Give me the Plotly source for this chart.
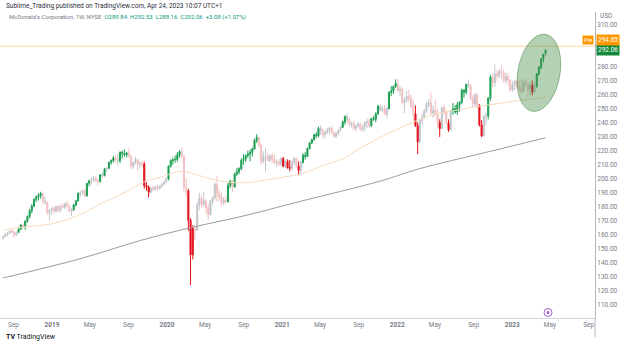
import numpy as np
import pandas as pd
import plotly.graph_objects as go

# Weekly bars for MCD (NYSE), one tuple per week: open, high, low, close, trend
# trend: "g" strong up, "r" strong down, "u" quiet up, "d" quiet down
bars_2018 = [
    (157.8, 159.6, 156.9, 158.9, "u"), (158.9, 161.2, 158.2, 160.5, "u"),
    (160.5, 162.3, 158.9, 161.4, "u"), (161.4, 163.5, 160.6, 162.9, "u"),
    (162.9, 164.0, 161.3, 162.2, "d"), (162.2, 163.4, 157.8, 160.1, "d"),
    (160.1, 162.6, 159.3, 161.9, "u"), (161.9, 164.8, 161.2, 164.2, "g"),
    (164.2, 167.6, 163.5, 167.2, "g"), (167.2, 168.4, 164.9, 166.0, "d"),
    (166.0, 170.6, 163.7, 169.8, "g"), (169.8, 173.9, 168.7, 173.2, "g"),
    (173.2, 178.6, 171.9, 177.4, "g"), (177.4, 182.0, 175.5, 180.6, "g"),
    (180.6, 186.2, 180.0, 185.5, "g"), (185.5, 188.3, 183.6, 187.1, "g"),
    (187.1, 189.8, 184.7, 188.2, "g"), (188.2, 190.9, 185.9, 189.7, "g"),
    (189.7, 190.2, 182.1, 184.3, "d"), (184.3, 187.5, 181.6, 183.0, "u"),
    (183.0, 184.4, 174.6, 175.8, "d"), (175.8, 178.6, 170.3, 177.6, "u"),
    (177.6, 180.0, 174.2, 178.9, "u"),
]

bars_2019 = [
    (178.9, 180.8, 175.5, 177.1, "d"), (177.1, 181.0, 175.8, 180.3, "u"),
    (180.3, 181.2, 176.4, 177.3, "d"), (177.3, 181.5, 176.2, 180.8, "u"),
    (180.8, 182.6, 178.9, 179.6, "d"), (179.6, 183.1, 178.5, 182.5, "u"),
    (182.5, 184.3, 180.0, 180.6, "d"), (180.6, 182.0, 176.3, 176.9, "d"),
    (176.9, 179.4, 173.4, 178.2, "u"), (178.2, 182.1, 177.1, 181.4, "g"),
    (181.4, 185.0, 180.4, 184.3, "g"), (184.3, 190.3, 183.8, 189.9, "g"),
    (189.9, 191.2, 187.3, 190.6, "u"), (190.6, 192.5, 188.6, 191.3, "u"),
    (191.3, 193.0, 186.9, 188.0, "d"), (188.0, 197.2, 187.4, 196.9, "g"),
    (196.9, 199.4, 194.7, 198.7, "g"), (198.7, 201.2, 196.1, 199.4, "u"),
    (199.4, 202.6, 197.8, 200.6, "u"), (200.6, 201.9, 197.5, 198.4, "d"),
    (198.4, 200.0, 195.4, 198.3, "d"), (198.3, 203.5, 197.4, 203.0, "g"),
    (203.0, 204.9, 200.8, 202.4, "u"), (202.4, 207.9, 201.9, 207.2, "g"),
    (207.2, 208.4, 204.8, 207.7, "u"), (207.7, 212.5, 207.1, 211.9, "g"),
    (211.9, 214.0, 210.2, 213.2, "g"), (213.2, 216.5, 211.8, 215.0, "g"),
    (215.0, 216.6, 211.3, 213.4, "d"), (213.4, 218.0, 209.8, 213.1, "u"),
    (213.1, 219.6, 211.4, 219.1, "g"), (219.1, 220.3, 214.6, 218.1, "g"),
    (218.1, 221.2, 216.0, 217.3, "g"), (217.3, 219.5, 215.4, 218.6, "g"),
    (218.6, 221.9, 215.2, 216.2, "d"), (216.2, 217.0, 206.9, 209.1, "d"),
    (209.1, 212.6, 207.5, 211.8, "u"), (211.8, 215.6, 210.2, 213.9, "u"),
    (213.9, 214.7, 205.9, 210.3, "d"), (210.3, 212.8, 207.6, 211.2, "u"),
    (211.2, 213.3, 208.6, 210.7, "d"), (210.7, 212.4, 193.1, 195.3, "r"),
    (195.3, 197.6, 191.8, 194.2, "r"), (194.2, 195.5, 186.9, 190.6, "r"),
    (190.6, 194.0, 189.8, 193.6, "u"), (193.6, 195.3, 191.5, 192.4, "d"),
    (192.4, 195.1, 191.9, 194.5, "u"), (194.5, 196.1, 191.6, 193.0, "d"),
    (193.0, 195.7, 192.6, 195.1, "u"), (195.1, 197.0, 193.8, 196.4, "u"),
    (196.4, 198.5, 195.5, 197.9, "u"), (197.9, 201.2, 196.8, 200.1, "u"),
]

bars_2020 = [
    (200.1, 209.6, 199.0, 209.3, "g"), (209.3, 214.0, 208.2, 213.2, "g"),
    (213.2, 215.4, 210.3, 213.6, "g"), (213.6, 216.8, 211.6, 213.9, "g"),
    (213.9, 219.3, 212.4, 217.2, "g"), (217.2, 220.5, 215.3, 219.6, "g"),
    (219.6, 221.9, 214.9, 216.0, "d"), (216.0, 217.2, 190.6, 194.2, "d"),
    (194.2, 200.5, 187.2, 191.5, "d"), (191.5, 193.0, 163.0, 170.5, "r"),
    (170.5, 172.0, 124.2, 145.8, "r"), (145.8, 166.9, 142.5, 164.6, "r"),
    (164.6, 167.0, 155.9, 163.5, "d"), (163.5, 183.5, 163.0, 181.4, "u"),
    (181.4, 189.9, 177.8, 186.3, "u"), (186.3, 188.7, 179.4, 182.0, "d"),
    (182.0, 191.0, 180.2, 184.4, "u"), (184.4, 185.5, 175.2, 179.7, "d"),
    (179.7, 182.0, 170.5, 174.5, "d"), (174.5, 185.0, 174.0, 183.9, "u"),
    (183.9, 187.8, 181.6, 186.5, "u"), (186.5, 197.8, 185.5, 196.0, "u"),
    (196.0, 202.2, 183.8, 189.7, "d"), (189.7, 192.4, 184.3, 187.2, "d"),
    (187.2, 190.5, 180.9, 182.9, "d"), (182.9, 186.9, 181.2, 184.9, "u"),
    (184.9, 188.2, 182.6, 183.9, "d"), (183.9, 197.6, 183.1, 195.5, "g"),
    (195.5, 199.5, 193.4, 198.6, "g"), (198.6, 199.0, 190.8, 194.3, "d"),
    (194.3, 204.5, 193.6, 203.6, "g"), (203.6, 208.0, 202.0, 205.2, "g"),
    (205.2, 208.4, 203.3, 207.4, "g"), (207.4, 214.8, 206.3, 213.3, "g"),
    (213.3, 217.8, 210.2, 214.3, "g"), (214.3, 217.5, 212.0, 216.8, "g"),
    (216.8, 220.2, 215.2, 217.9, "g"), (217.9, 221.1, 212.6, 219.0, "g"),
    (219.0, 222.5, 216.1, 221.4, "g"), (221.4, 228.8, 220.9, 227.5, "g"),
    (227.5, 231.9, 225.7, 229.7, "g"), (229.7, 230.2, 222.1, 224.3, "d"),
    (224.3, 225.5, 210.1, 212.5, "d"), (212.5, 219.8, 211.2, 216.1, "u"),
    (216.1, 222.3, 205.4, 216.2, "u"), (216.2, 218.8, 212.7, 213.2, "d"),
    (213.2, 217.7, 212.3, 216.6, "u"), (216.6, 218.6, 211.2, 214.2, "d"),
    (214.2, 217.2, 210.8, 211.4, "d"), (211.4, 213.9, 208.8, 212.4, "u"),
    (212.4, 214.3, 209.2, 210.5, "d"), (210.5, 215.5, 209.5, 214.6, "u"),
]

bars_2021 = [
    (214.6, 215.8, 208.4, 209.2, "r"), (209.2, 213.9, 207.7, 212.6, "u"),
    (212.6, 214.1, 207.4, 208.0, "r"), (208.0, 213.6, 205.5, 207.8, "r"),
    (207.8, 213.2, 206.9, 211.7, "u"), (211.7, 215.7, 210.3, 214.8, "u"),
    (214.8, 215.3, 208.1, 209.2, "d"), (209.2, 212.6, 202.7, 206.2, "r"),
    (206.2, 213.2, 202.3, 211.8, "u"), (211.8, 218.4, 211.0, 216.9, "g"),
    (216.9, 219.2, 213.9, 216.1, "g"), (216.1, 222.6, 215.7, 221.7, "g"),
    (221.7, 226.3, 221.0, 225.8, "g"), (225.8, 228.8, 225.0, 228.1, "g"),
    (228.1, 232.3, 227.2, 231.6, "g"), (231.6, 233.5, 229.1, 230.9, "g"),
    (230.9, 237.4, 229.8, 236.1, "g"), (236.1, 238.2, 231.5, 234.5, "u"),
    (234.5, 236.0, 228.7, 231.6, "d"), (231.6, 234.5, 229.3, 233.2, "u"),
    (233.2, 236.5, 231.9, 234.9, "u"), (234.9, 237.3, 232.1, 236.3, "u"),
    (236.3, 237.8, 232.5, 233.3, "d"), (233.3, 234.1, 229.5, 230.3, "d"),
    (230.3, 233.5, 229.4, 232.6, "u"), (232.6, 235.4, 231.0, 234.8, "u"),
    (234.8, 237.8, 233.6, 237.0, "u"), (237.0, 241.8, 236.4, 240.7, "g"),
    (240.7, 245.4, 238.8, 244.7, "g"), (244.7, 247.2, 240.1, 242.7, "u"),
    (242.7, 244.2, 237.6, 238.9, "d"), (238.9, 241.0, 236.9, 239.8, "u"),
    (239.8, 241.6, 234.7, 236.1, "d"), (236.1, 239.0, 234.2, 237.5, "u"),
    (237.5, 240.9, 236.7, 239.3, "u"), (239.3, 240.5, 234.6, 235.2, "d"),
    (235.2, 238.8, 233.7, 237.1, "u"), (237.1, 241.2, 234.2, 240.5, "u"),
    (240.5, 243.3, 236.4, 241.1, "u"), (241.1, 242.9, 236.7, 238.0, "d"),
    (238.0, 243.7, 237.2, 243.2, "g"), (243.2, 245.1, 241.5, 242.6, "g"),
    (242.6, 247.7, 240.5, 246.6, "g"), (246.6, 253.2, 245.9, 251.9, "g"),
    (251.9, 253.5, 248.2, 249.1, "u"), (249.1, 252.5, 247.6, 250.3, "u"),
    (250.3, 252.9, 245.5, 246.2, "d"), (246.2, 251.8, 243.3, 250.4, "u"),
    (250.4, 262.7, 249.6, 261.9, "g"), (261.9, 266.4, 259.1, 262.9, "g"),
    (262.9, 266.8, 260.7, 266.0, "g"), (266.0, 271.2, 265.1, 268.1, "g"),
]

bars_2022 = [
    (268.1, 271.7, 261.9, 263.3, "d"), (263.3, 266.8, 259.1, 264.3, "u"),
    (264.3, 265.4, 252.9, 254.3, "d"), (254.3, 258.4, 247.0, 256.4, "u"),
    (256.4, 262.9, 254.7, 259.0, "u"), (259.0, 264.0, 255.1, 257.6, "d"),
    (257.6, 260.5, 250.7, 251.9, "d"), (251.9, 256.6, 241.8, 246.6, "d"),
    (246.6, 252.5, 237.2, 238.1, "r"), (238.1, 240.4, 217.7, 226.6, "r"),
    (226.6, 242.8, 225.4, 241.5, "u"), (241.5, 246.5, 239.3, 243.9, "u"),
    (243.9, 250.1, 242.8, 248.6, "u"), (248.6, 255.0, 246.9, 253.4, "u"),
    (253.4, 257.1, 251.2, 254.4, "u"), (254.4, 261.9, 245.8, 247.2, "d"),
    (247.2, 252.7, 243.9, 249.1, "u"), (249.1, 256.5, 245.1, 246.3, "d"),
    (246.3, 250.2, 236.8, 240.4, "d"), (240.4, 242.7, 230.0, 236.0, "r"),
    (236.0, 251.5, 235.6, 250.9, "u"), (250.9, 253.3, 246.2, 247.6, "d"),
    (247.6, 249.4, 239.0, 240.1, "d"), (240.1, 242.6, 233.6, 235.1, "r"),
    (235.1, 249.5, 234.6, 248.9, "u"), (248.9, 254.3, 245.9, 250.2, "g"),
    (250.2, 252.9, 246.7, 247.9, "g"), (247.9, 255.0, 245.8, 253.0, "g"),
    (253.0, 255.6, 248.3, 254.8, "g"), (254.8, 264.5, 253.5, 263.4, "g"),
    (263.4, 264.2, 258.1, 262.0, "g"), (262.0, 268.3, 260.4, 267.5, "g"),
    (267.5, 271.1, 264.8, 266.6, "u"), (266.6, 267.9, 256.4, 258.0, "d"),
    (258.0, 259.9, 250.8, 253.5, "d"), (253.5, 261.4, 252.3, 260.0, "u"),
    (260.0, 261.5, 250.6, 252.4, "d"), (252.4, 253.5, 237.5, 238.7, "r"),
    (238.7, 242.0, 230.0, 230.7, "r"), (230.7, 246.0, 230.4, 244.7, "u"),
    (244.7, 247.7, 238.1, 245.1, "u"), (245.1, 258.4, 242.6, 257.7, "g"),
    (257.7, 274.4, 255.9, 272.9, "g"), (272.9, 275.8, 265.6, 268.8, "d"),
    (268.8, 281.7, 265.9, 275.2, "u"), (275.2, 277.5, 270.2, 273.5, "d"),
    (273.5, 278.7, 272.1, 276.9, "u"), (276.9, 281.2, 271.8, 275.8, "d"),
    (275.8, 278.5, 268.8, 270.2, "d"), (270.2, 276.1, 268.5, 273.4, "u"),
    (273.4, 275.8, 266.6, 270.7, "d"), (270.7, 271.4, 262.6, 263.5, "d"),
]

bars_2023 = [
    (263.5, 269.8, 262.0, 267.3, "u"), (267.3, 271.1, 263.8, 270.1, "u"),
    (270.1, 270.8, 264.5, 266.2, "d"), (266.2, 270.3, 262.8, 264.9, "d"),
    (264.9, 271.2, 261.0, 262.5, "d"), (262.5, 270.0, 261.8, 269.8, "u"),
    (269.8, 272.1, 265.9, 266.9, "d"), (266.9, 268.2, 258.9, 264.2, "d"),
    (264.2, 269.3, 259.2, 267.1, "u"), (267.1, 270.5, 259.8, 262.0, "r"),
    (262.0, 268.4, 261.2, 266.2, "u"), (266.2, 275.6, 265.1, 275.1, "g"),
    (275.1, 280.8, 273.9, 279.6, "g"), (279.6, 286.4, 278.5, 285.8, "g"),
    (285.8, 289.6, 283.2, 288.98, "g"), (289.84, 292.53, 288.16, 292.06, "g"),
]

first_week = "2018-07-30"
premarket_price = 294.85
earnings_date = "2023-04-25"

# Medium-term moving average (orange), sampled along the chart
ma_fast_dates = ["2018-07-30", "2018-09-24", "2018-12-31", "2019-03-25", "2019-06-03",
                 "2019-08-26", "2019-10-21", "2019-12-16", "2020-02-17", "2020-04-13",
                 "2020-06-08", "2020-07-27", "2020-09-21", "2020-11-16", "2021-01-11",
                 "2021-03-08", "2021-05-03", "2021-07-12", "2021-09-06", "2021-11-01",
                 "2021-12-27", "2022-03-07", "2022-05-02", "2022-07-04", "2022-09-05",
                 "2022-11-07", "2023-01-02", "2023-03-06", "2023-04-17"]
ma_fast_values = [163.5, 165.5, 168.0, 174.0, 182.0, 191.0, 198.0, 201.5, 205.5, 202.5,
                  199.0, 197.5, 197.5, 199.5, 201.5, 204.0, 209.0, 214.5, 222.0, 229.0,
                  235.0, 242.0, 246.5, 249.0, 251.5, 253.5, 255.5, 257.0, 258.5]

# Long moving average (grey)
ma_slow_dates = ["2018-07-30", "2019-03-31", "2019-10-08", "2020-03-21", "2020-08-20",
                 "2021-02-27", "2021-11-08", "2022-03-15", "2022-09-21", "2023-01-27",
                 "2023-04-17"]
ma_slow_values = [129.3, 143.0, 156.0, 165.5, 173.0, 184.0, 198.5, 207.5, 218.0, 225.0, 229.5]

x_tick_dates = ["2018-09-01", "2019-01-01", "2019-05-01", "2019-09-01", "2020-01-01",
                "2020-05-01", "2020-09-01", "2021-01-01", "2021-05-01", "2021-09-01",
                "2022-01-01", "2022-05-01", "2022-09-01", "2023-01-01", "2023-05-01",
                "2023-09-01"]
x_tick_text = ["Sep", "<b>2019</b>", "May", "Sep", "<b>2020</b>", "May", "Sep",
               "<b>2021</b>", "May", "Sep", "<b>2022</b>", "May", "Sep", "<b>2023</b>",
               "May", "Sep"]
y_tick_values = list(range(110, 320, 10))

rows = bars_2018 + bars_2019 + bars_2020 + bars_2021 + bars_2022 + bars_2023
df = pd.DataFrame(rows, columns=["open", "high", "low", "close", "trend"])
df["week"] = pd.date_range(first_week, periods=len(df), freq="W-MON")

palette = {"u": "#c3c6cc", "d": "#f3c1c3", "g": "#1f9f55", "r": "#e3101b"}

FONT = "Roboto, Lato, sans-serif"
AXIS_GREY = "#787b86"

close = df["close"].iloc[-1]
prev = df["close"].iloc[-2]
chg = close - prev
pct = chg / prev * 100
o, h, l = df["open"].iloc[-1], df["high"].iloc[-1], df["low"].iloc[-1]

# Scale labels: the one sitting under the last-price tag is left blank
y_tick_text = ["" if abs(v - close) < 5 else f"{v:.2f}" for v in y_tick_values]

fig = go.Figure()

fig.add_trace(go.Scatter(x=pd.to_datetime(ma_slow_dates), y=ma_slow_values, mode="lines",
                         line=dict(color="#9a9ca2", width=1, shape="spline", smoothing=1.0),
                         hoverinfo="skip", showlegend=False))
fig.add_trace(go.Scatter(x=pd.to_datetime(ma_fast_dates), y=ma_fast_values, mode="lines",
                         line=dict(color="#f8dcbf", width=1, shape="spline", smoothing=1.0),
                         hoverinfo="skip", showlegend=False))

for trend, color in palette.items():
    m = df["trend"] == trend
    style = dict(line=dict(color=color, width=1), fillcolor=color)
    fig.add_trace(go.Candlestick(
        x=df["week"], open=df["open"].where(m), high=df["high"].where(m),
        low=df["low"].where(m), close=df["close"].where(m),
        increasing=style, decreasing=style, whiskerwidth=0,
        hoverinfo="skip", showlegend=False))

# Pre-market price line across the pane
fig.add_shape(type="line", xref="paper", x0=0, x1=1, yref="y",
              y0=premarket_price, y1=premarket_price,
              line=dict(color="rgba(255,152,0,0.4)", width=1))

# Highlight around the latest advance
last = df.iloc[-8:]
cx = df["week"].iloc[-4]
cy = (last["low"].min() + last["high"].max()) / 2
a, b, tilt = 21, 39, np.radians(10)
t = np.linspace(0, 2 * np.pi, 48)
ex = a * np.cos(t) * np.cos(tilt) + b * np.sin(t) * np.sin(tilt)
ey = -a * np.cos(t) * np.sin(tilt) + b * np.sin(t) * np.cos(tilt)
path = "M " + " L ".join(f"{px:.2f},{py:.2f}" for px, py in zip(ex, ey)) + " Z"
fig.add_shape(type="path", path=path, xref="x", yref="y",
              xsizemode="pixel", ysizemode="pixel", xanchor=cx, yanchor=cy,
              fillcolor="rgba(70,140,70,0.40)", line=dict(color="rgba(70,140,70,0.55)", width=1),
              layer="above")

# Earnings marker on the time axis
fig.add_shape(type="circle", xref="x", yref="paper", xsizemode="pixel", ysizemode="pixel",
              xanchor=earnings_date, yanchor=0.018, x0=-4, x1=4, y0=-4, y1=4,
              line=dict(color="#a35fd0", width=1), fillcolor="white")
fig.add_shape(type="circle", xref="x", yref="paper", xsizemode="pixel", ysizemode="pixel",
              xanchor=earnings_date, yanchor=0.018, x0=-1.5, x1=1.5, y0=-1.5, y1=1.5,
              line=dict(width=0), fillcolor="#a35fd0")

# Axis extension below the time scale
fig.add_shape(type="line", xref="paper", yref="paper", x0=1, x1=1, y0=0, y1=-0.062,
              line=dict(color="#b2b5be", width=1))

fig.add_annotation(xref="paper", yref="paper", x=0, y=1.02, xanchor="left", yanchor="middle",
                   xshift=4, showarrow=False,
                   text="Sublime_Trading published on TradingView.com, Apr 24, 2023 10:07 UTC+1",
                   font=dict(family=FONT, size=6.5, color="#2a2e39"))
fig.add_annotation(xref="paper", yref="paper", x=0, y=0.984, xanchor="left", yanchor="middle",
                   xshift=7, showarrow=False,
                   text=(f"<span style='color:{AXIS_GREY}'>McDonald's Corporation, 1W, NYSE</span>"
                         f"  <span style='color:#089981'>O{o:.2f}  H{h:.2f}  L{l:.2f}  "
                         f"C{close:.2f}  {chg:+.2f} ({pct:+.2f}%)</span>"),
                   font=dict(family=FONT, size=6, color="#089981"))

fig.add_annotation(xref="paper", yref="paper", x=1, y=0.987, xanchor="left", yanchor="middle",
                   xshift=3, showarrow=False, text="USD",
                   font=dict(family=FONT, size=6.5, color=AXIS_GREY))

# Price tags on the scale
fig.add_annotation(xref="paper", yref="y", x=1, y=close, xanchor="left", yanchor="middle",
                   xshift=1, showarrow=False, text=f"{close:.2f}", bgcolor="#138a3b",
                   borderpad=1, font=dict(family=FONT, size=6.5, color="white"))
fig.add_annotation(xref="paper", yref="y", x=1, y=premarket_price, xanchor="left",
                   yanchor="middle", xshift=1, yshift=6, showarrow=False,
                   text=f"{premarket_price:.2f}", bgcolor="#ff9800", borderpad=1,
                   font=dict(family=FONT, size=6.5, color="white"))
fig.add_annotation(xref="paper", yref="y", x=1, y=premarket_price, xanchor="right",
                   yanchor="middle", xshift=-1, yshift=6, showarrow=False, text="Pre",
                   bgcolor="#ff9800", borderpad=1,
                   font=dict(family=FONT, size=5.5, color="white"))

fig.add_annotation(xref="paper", yref="paper", x=0, y=-0.062, xanchor="left", yanchor="middle",
                   xshift=4, showarrow=False,
                   text="<b>TV</b> TradingView",
                   font=dict(family=FONT, size=7, color="#131722"))

fig.update_layout(
    width=624, height=345,
    margin=dict(l=0, r=29, t=12, b=27),
    paper_bgcolor="white", plot_bgcolor="white",
    font=dict(family=FONT, size=6.5, color=AXIS_GREY),
    xaxis=dict(range=["2018-07-20", "2023-09-21"], rangeslider=dict(visible=False),
               showgrid=False, zeroline=False, showline=True, linecolor="#d1d4dc",
               linewidth=1, ticks="", tickvals=pd.to_datetime(x_tick_dates),
               ticktext=x_tick_text, tickfont=dict(family=FONT, size=6.5, color=AXIS_GREY)),
    yaxis=dict(side="right", range=[100.7, 319.3], showgrid=False, zeroline=False,
               showline=True, linecolor="#b2b5be", linewidth=1, ticks="",
               tickvals=y_tick_values, ticktext=y_tick_text,
               tickfont=dict(family=FONT, size=6.5, color=AXIS_GREY)),
    showlegend=False,
)

fig.write_html("out.html")
